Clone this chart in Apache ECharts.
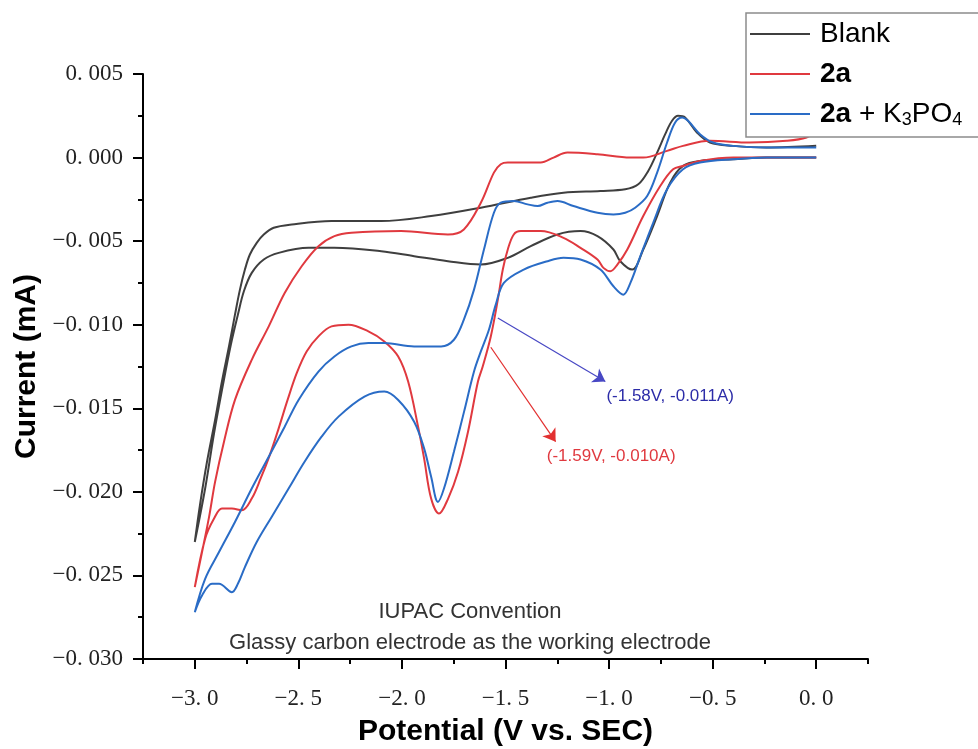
<!DOCTYPE html>
<html>
<head>
<meta charset="utf-8">
<script src="https://cdn.jsdelivr.net/npm/echarts@6/dist/echarts.min.js"></script>
<style>
  html, body { margin: 0; padding: 0; background: #fff; }
  #chart { width: 978px; height: 749px; }
</style>
</head>
<body>
<div id="chart"></div>
<script>
// Cyclic voltammograms, potential (V) vs current (mA).
// Each scan is stored as its cathodic sweep (0 V -> -3 V) and its return sweep (-3 V -> 0 V).

const seriesNames = ['Blank', '2a', '2a + K3PO4'];

const blankForward = [
  [0.00, 0.0000], [-0.24, 0.0000], [-0.40, -0.0001], [-0.561, -0.0002], [-0.643, -0.0005],
  [-0.705, -0.0015], [-0.768, -0.0035], [-0.835, -0.0055], [-0.888, -0.0067], [-0.946, -0.0062],
  [-0.979, -0.0055], [-1.056, -0.0047], [-1.138, -0.0044], [-1.249, -0.0046], [-1.378, -0.0053],
  [-1.489, -0.0060], [-1.619, -0.0064], [-1.778, -0.0062], [-1.941, -0.0059], [-2.100, -0.0056],
  [-2.326, -0.0054], [-2.451, -0.0054], [-2.595, -0.0057], [-2.667, -0.0061], [-2.725, -0.0069],
  [-2.763, -0.0080], [-2.792, -0.0094], [-2.826, -0.0112], [-2.864, -0.0136], [-2.907, -0.0165],
  [-2.950, -0.0198], [-3.00, -0.0230]
];
const blankReverse = [
  [-2.974, -0.0207], [-2.941, -0.0182], [-2.902, -0.0157], [-2.869, -0.0134], [-2.835, -0.0113],
  [-2.806, -0.0094], [-2.782, -0.0079], [-2.758, -0.0067], [-2.734, -0.0058], [-2.701, -0.0051],
  [-2.667, -0.0046], [-2.619, -0.0042], [-2.532, -0.0040], [-2.340, -0.0038], [-2.100, -0.0038],
  [-1.859, -0.0035], [-1.619, -0.0030], [-1.378, -0.0024], [-1.220, -0.0021], [-1.042, -0.0020],
  [-0.922, -0.0019], [-0.859, -0.0016], [-0.811, -0.0008], [-0.768, 0.0003], [-0.729, 0.0014],
  [-0.696, 0.0022], [-0.667, 0.0025], [-0.633, 0.0024], [-0.576, 0.0015], [-0.513, 0.0009],
  [-0.402, 0.0007], [-0.240, 0.0006], [0.00, 0.0007]
];

const r2aForward = [
  [0.00, 0.0000], [-0.24, 0.0000], [-0.40, 0.0000], [-0.561, -0.0002], [-0.643, -0.0005],
  [-0.691, -0.0007], [-0.753, -0.0017], [-0.835, -0.0035], [-0.912, -0.0055], [-0.960, -0.0064],
  [-0.994, -0.0068], [-1.027, -0.0066], [-1.056, -0.0061], [-1.138, -0.0054], [-1.220, -0.0048],
  [-1.330, -0.0044], [-1.426, -0.0044], [-1.460, -0.0046], [-1.489, -0.0055], [-1.513, -0.0067],
  [-1.537, -0.0085], [-1.571, -0.0107], [-1.610, -0.0125], [-1.633, -0.0134], [-1.681, -0.0164],
  [-1.729, -0.0188], [-1.777, -0.0204], [-1.821, -0.0213], [-1.859, -0.0204], [-1.893, -0.0180],
  [-1.922, -0.0161], [-1.970, -0.0134], [-2.018, -0.0119], [-2.085, -0.0110], [-2.162, -0.0104],
  [-2.258, -0.0100], [-2.340, -0.0101], [-2.403, -0.0107], [-2.460, -0.0116], [-2.508, -0.0129],
  [-2.552, -0.0145], [-2.595, -0.0162], [-2.638, -0.0178], [-2.682, -0.0192], [-2.725, -0.0204],
  [-2.773, -0.0211], [-2.821, -0.0210], [-2.869, -0.0210], [-2.907, -0.0216], [-2.950, -0.0228],
  [-3.00, -0.0257]
];
const r2aReverse = [
  [-2.965, -0.0236], [-2.931, -0.0215], [-2.902, -0.0194], [-2.859, -0.0170], [-2.806, -0.0145],
  [-2.725, -0.0121], [-2.643, -0.0101], [-2.566, -0.0081], [-2.484, -0.0065], [-2.403, -0.0053],
  [-2.326, -0.0047], [-2.244, -0.0045], [-2.004, -0.0044], [-1.778, -0.0046], [-1.701, -0.0043],
  [-1.619, -0.0027], [-1.556, -0.0009], [-1.523, -0.0004], [-1.489, -0.0003], [-1.330, -0.0003],
  [-1.268, 0.0000], [-1.201, 0.0003], [-1.056, 0.0002], [-0.897, 0.0000], [-0.835, 0.0000],
  [-0.720, 0.0004], [-0.643, 0.0007], [-0.513, 0.0010], [-0.321, 0.0009], [-0.143, 0.0010],
  [-0.047, 0.0012], [0.00, 0.0016]
];

const kForward = [
  [0.00, 0.0000], [-0.24, 0.0000], [-0.402, -0.0001], [-0.561, -0.0003], [-0.643, -0.0007],
  [-0.720, -0.0019], [-0.787, -0.0039], [-0.849, -0.0059], [-0.897, -0.0075], [-0.931, -0.0082],
  [-0.979, -0.0077], [-1.042, -0.0067], [-1.138, -0.0061], [-1.220, -0.0060], [-1.297, -0.0062],
  [-1.412, -0.0067], [-1.508, -0.0075], [-1.547, -0.0088], [-1.580, -0.0103], [-1.619, -0.0116],
  [-1.652, -0.0128], [-1.700, -0.0152], [-1.749, -0.0176], [-1.797, -0.0198], [-1.826, -0.0206],
  [-1.859, -0.0191], [-1.893, -0.0174], [-1.941, -0.0158], [-2.018, -0.0145], [-2.085, -0.0140],
  [-2.181, -0.0143], [-2.306, -0.0155], [-2.388, -0.0167], [-2.470, -0.0182], [-2.547, -0.0198],
  [-2.629, -0.0215], [-2.701, -0.0230], [-2.758, -0.0245], [-2.792, -0.0255], [-2.821, -0.0260],
  [-2.883, -0.0255], [-2.917, -0.0255], [-2.965, -0.0262], [-3.00, -0.0272]
];
const kReverse = [
  [-2.950, -0.0252], [-2.883, -0.0236], [-2.806, -0.0218], [-2.725, -0.0198], [-2.643, -0.0179],
  [-2.566, -0.0161], [-2.499, -0.0145], [-2.403, -0.0128], [-2.326, -0.0119], [-2.244, -0.0113],
  [-2.162, -0.0111], [-2.085, -0.0111], [-1.941, -0.0113], [-1.811, -0.0113], [-1.749, -0.0109],
  [-1.701, -0.0097], [-1.652, -0.0079], [-1.604, -0.0055], [-1.556, -0.0033], [-1.523, -0.0027],
  [-1.460, -0.0026], [-1.393, -0.0028], [-1.345, -0.0029], [-1.297, -0.0027], [-1.249, -0.0026],
  [-1.172, -0.0029], [-1.056, -0.0033], [-0.979, -0.0034], [-0.922, -0.0033], [-0.874, -0.0030],
  [-0.816, -0.0023], [-0.768, -0.0009], [-0.720, 0.0009], [-0.681, 0.0021], [-0.647, 0.0024],
  [-0.619, 0.0022], [-0.561, 0.0014], [-0.498, 0.0009], [-0.402, 0.0007], [-0.240, 0.0006],
  [0.00, 0.0006]
];

// Axis ticks
const xMajorTicks = [-3.0, -2.5, -2.0, -1.5, -1.0, -0.5, 0.0];
const xMinorTicks = [-3.25, -2.75, -2.25, -1.75, -1.25, -0.75, -0.25, 0.25];

// Callouts: arrow from a point on the curve to its text
const blueArrow = [[-1.537, -0.0096], [-1.018, -0.0134]];
const blueNote = { text: '(-1.58V, -0.011A)', at: [-1.013, -0.0143] };
const redArrow = [[-1.571, -0.01135], [-1.258, -0.0170]];
const redNote = { text: '(-1.59V, -0.010A)', at: [-1.301, -0.0179] };

const noteLines = ['IUPAC Convention', 'Glassy carbon electrode as the working electrode'];

const colors = { blank: '#3f3f3f', r2a: '#e0393f', k: '#2a6cc6' };

const fmtNum = (v, digits) => {
  const s = Math.abs(v).toFixed(digits).replace('.', '. ');
  return (v < -1e-9 ? '\u2212' : '') + s;
};

const chart = echarts.init(document.getElementById('chart'), null, { renderer: 'canvas' });

function lineSeries(name, fwd, rev, color, extra) {
  return Object.assign({
    name: name,
    type: 'line',
    xAxisIndex: 0,
    yAxisIndex: 0,
    data: fwd.concat(rev),
    smooth: 0.35,
    symbol: 'none',
    lineStyle: { color: color, width: 2 },
    itemStyle: { color: color },
    z: 3
  }, extra || {});
}

function arrowMark(pts, lineColor) {
  return {
    silent: true,
    symbol: ['none', 'arrow'],
    symbolSize: 12,
    label: { show: false },
    lineStyle: { color: lineColor, width: 1.2, type: 'solid' },
    emphasis: { disabled: true },
    data: [[{ coord: pts[0] }, { coord: pts[1] }]]
  };
}

function noteMark(note, color) {
  return {
    silent: true,
    symbol: 'circle',
    symbolSize: 0,
    data: [{ coord: note.at, value: 0 }],
    label: {
      show: true,
      position: 'right',
      distance: 0,
      formatter: note.text,
      color: color,
      fontFamily: 'Liberation Sans, Arial, sans-serif',
      fontSize: 17
    }
  };
}

const axisFont = 'Liberation Serif, Times New Roman, serif';
const titleFont = 'Liberation Sans, Arial, sans-serif';

chart.setOption({
  animation: false,
  backgroundColor: '#ffffff',
  grid: { left: 143, right: 110, top: 74, bottom: 90, containLabel: false, outerBoundsMode: 'none' },
  legend: {
    data: seriesNames,
    orient: 'vertical',
    left: 746,
    top: 13,
    icon: 'rect',
    itemWidth: 60,
    itemHeight: 2,
    itemGap: 10,
    padding: [6, 300, 8, 4],
    borderColor: '#8c8c8c',
    borderWidth: 1.5,
    backgroundColor: '#ffffff',
    selectedMode: false,
    formatter: function (name) {
      if (name === '2a') return '{b|2a}';
      if (name === '2a + K3PO4') return '{b|2a} + K{s|3}PO{s|4}';
      return name;
    },
    textStyle: {
      color: '#000',
      fontFamily: titleFont,
      fontSize: 28,
      lineHeight: 30,
      padding: [0, 0, 0, 5],
      rich: {
        b: { fontWeight: 'bold', fontSize: 28, fontFamily: titleFont, lineHeight: 30 },
        s: { fontSize: 18, fontFamily: titleFont, lineHeight: 18, verticalAlign: 'bottom' }
      }
    }
  },
  xAxis: [
    {
      type: 'value',
      min: -3.25,
      max: 0.25,
      position: 'bottom',
      name: 'Potential (V vs. SEC)',
      nameLocation: 'middle',
      nameGap: 58,
      nameTextStyle: { fontFamily: titleFont, fontWeight: 'bold', fontSize: 30, color: '#000' },
      axisLine: { show: true, onZero: false, lineStyle: { color: '#000', width: 2 } },
      axisTick: { show: true, inside: false, length: 10, customValues: xMajorTicks, lineStyle: { color: '#000', width: 2 } },
      axisLabel: {
        show: true, customValues: xMajorTicks, margin: 28,
        formatter: v => fmtNum(v, 1),
        fontFamily: axisFont, fontSize: 23, color: '#222'
      },
      splitLine: { show: false }
    },
    {
      type: 'value',
      min: -3.25,
      max: 0.25,
      position: 'bottom',
      axisLine: { show: false, onZero: false },
      axisTick: { show: true, inside: false, length: 5, customValues: xMinorTicks, lineStyle: { color: '#000', width: 2 } },
      axisLabel: { show: false },
      splitLine: { show: false }
    }
  ],
  yAxis: {
    type: 'value',
    min: -0.030,
    max: 0.005,
    interval: 0.005,
    name: 'Current (mA)',
    nameLocation: 'middle',
    nameGap: 100,
    nameTextStyle: { fontFamily: titleFont, fontWeight: 'bold', fontSize: 30, color: '#000' },
    axisLine: { show: true, onZero: false, lineStyle: { color: '#000', width: 2 } },
    axisTick: { show: true, inside: false, length: 10, lineStyle: { color: '#000', width: 2 } },
    minorTick: { show: true, splitNumber: 2, length: 5, lineStyle: { color: '#000', width: 2 } },
    axisLabel: {
      margin: 20,
      formatter: v => fmtNum(v, 3),
      fontFamily: axisFont, fontSize: 23, color: '#222'
    },
    splitLine: { show: false },
    minorSplitLine: { show: false }
  },
  graphic: [
    {
      type: 'text', x: 470, y: 612, silent: true,
      style: {
        text: noteLines[0], fill: '#333', align: 'center', verticalAlign: 'middle',
        font: '22px "Liberation Sans", Arial, sans-serif'
      }
    },
    {
      type: 'text', x: 470, y: 643, silent: true,
      style: {
        text: noteLines[1], fill: '#333', align: 'center', verticalAlign: 'middle',
        font: '22px "Liberation Sans", Arial, sans-serif'
      }
    }
  ],
  series: [
    lineSeries(seriesNames[0], blankForward, blankReverse, colors.blank),
    lineSeries(seriesNames[1], r2aForward, r2aReverse, colors.r2a, {
      markLine: arrowMark(redArrow, '#e23030'),
      markPoint: noteMark(redNote, '#e0393f')
    }),
    lineSeries(seriesNames[2], kForward, kReverse, colors.k, {
      markLine: arrowMark(blueArrow, '#4848c4'),
      markPoint: noteMark(blueNote, '#2c2ca8')
    })
  ]
});
</script>
</body>
</html>
